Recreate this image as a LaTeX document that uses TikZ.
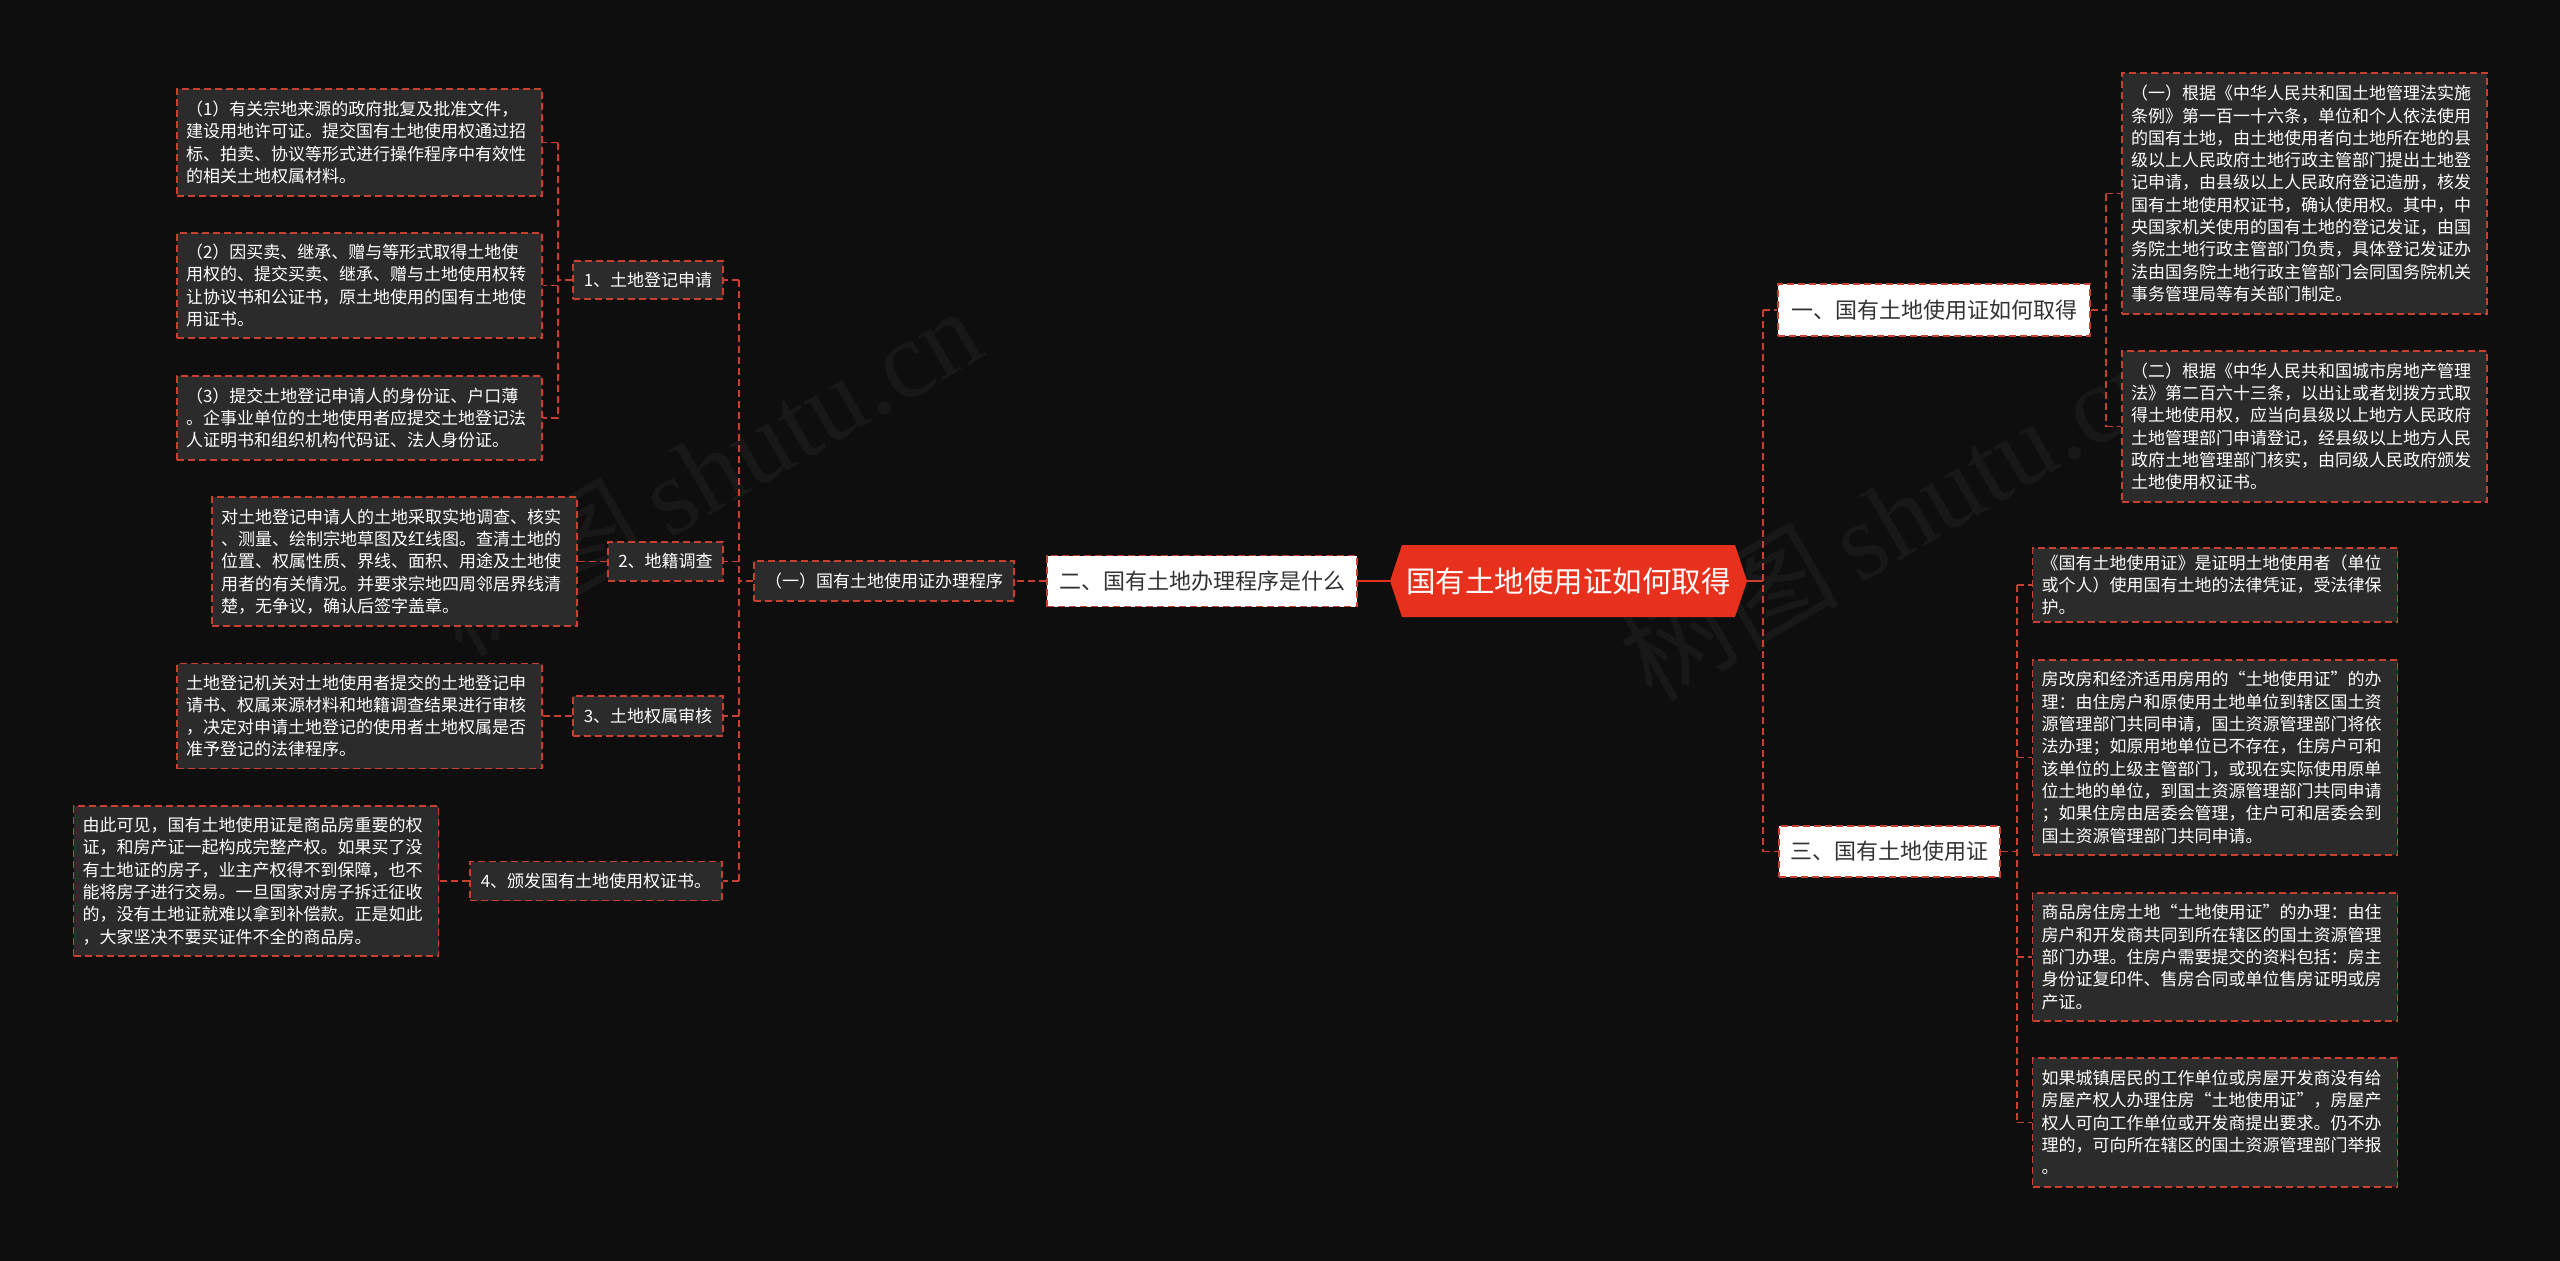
\documentclass[tikz,border=0pt]{standalone}
\usepackage{fontspec}
\setmainfont{Noto Sans CJK SC}
\newfontfamily\wmserif{Liberation Serif}
\definecolor{bg}{HTML}{0E0E0E}
\definecolor{boxfill}{HTML}{2B2B2B}
\definecolor{bord}{HTML}{C9402F}
\definecolor{rootred}{HTML}{E8311C}
\definecolor{darktext}{HTML}{333333}
\tikzset{
 dashln/.style={draw=bord, line width=1.8pt, dash pattern=on 7pt off 4pt},
 conn/.style={dashln},
 solidln/.style={draw=rootred, line width=2.5pt},
 stubln/.style={draw=bord, line width=1.8pt},
 tbox/.style={dashln, fill=boxfill, text=white, font=\fontsize{17}{22.3}\selectfont, align=left, text width=347pt, inner xsep=9pt, inner ysep=0pt},
 lbox/.style={dashln, fill=boxfill, text=white, font=\fontsize{17}{20}\selectfont, inner sep=0pt},
 wbox/.style={dashln, fill=white, text=darktext, font=\fontsize{22}{26}\selectfont, inner sep=0pt},
 wmark/.style={rotate=30, text=white, text opacity=0.045, font=\fontsize{110}{110}\selectfont},
}
\begin{document}
\begin{tikzpicture}[x=1pt,y=-1pt]
\fill[bg] (0,0) rectangle (2560,1261);
\useasboundingbox (0,0) rectangle (2560,1261);

% watermarks
\node[wmark] (wm1) at (705,470) {树图\,{\wmserif shutu.cn}};
\node[wmark] (wm2) at (1895,515) {树图\,{\wmserif shutu.cn}};

% root
\fill[rootred] (1390,581) -- (1402,545) -- (1735,545) -- (1747,581) -- (1735,617) -- (1402,617) -- cycle;
\node[font=\fontsize{29.5}{34}\selectfont, text=white, minimum width=357pt, minimum height=72pt, inner sep=0pt] (root) at (1568.5,581) {国有土地使用证如何取得};

% left branch
\node[wbox, minimum width=310pt, minimum height=51pt] (l1) at (1202,581) {二、国有土地办理程序是什么};
\node[lbox, minimum width=260pt, minimum height=40pt] (sub) at (884,581) {（一）国有土地使用证办理程序};
\node[lbox, minimum width=150pt, minimum height=38pt] (n1) at (648,280) {1、土地登记申请};
\node[lbox, minimum width=115pt, minimum height=39pt] (n2) at (665.5,561.5) {2、地籍调查};
\node[lbox, minimum width=150pt, minimum height=40pt] (n3) at (648,716) {3、土地权属审核};
\node[lbox, minimum width=252pt, minimum height=39pt] (n4) at (596,881) {4、颁发国有土地使用权证书。};

\node[tbox, minimum height=107pt] (t1) at (359.5,142.5) {（1）有关宗地来源的政府批复及批准文件，\\建设用地许可证。提交国有土地使用权通过招\\标、拍卖、协议等形式进行操作程序中有效性\\的相关土地权属材料。};
\node[tbox, minimum height=105pt] (t2) at (359.5,285.5) {（2）因买卖、继承、赠与等形式取得土地使\\用权的、提交买卖、继承、赠与土地使用权转\\让协议书和公证书，原土地使用的国有土地使\\用证书。};
\node[tbox, minimum height=84pt] (t3) at (359.5,418) {（3）提交土地登记申请人的身份证、户口薄\\。企事业单位的土地使用者应提交土地登记法\\人证明书和组织机构代码证、法人身份证。};
\node[tbox, minimum height=129pt] (t4) at (394.5,561.5) {对土地登记申请人的土地采取实地调查、核实\\、测量、绘制宗地草图及红线图。查清土地的\\位置、权属性质、界线、面积、用途及土地使\\用者的有关情况。并要求宗地四周邻居界线清\\楚，无争议，确认后签字盖章。};
\node[tbox, minimum height=105pt] (t5) at (359.5,716) {土地登记机关对土地使用者提交的土地登记申\\请书、权属来源材料和地籍调查结果进行审核\\，决定对申请土地登记的使用者土地权属是否\\准予登记的法律程序。};
\node[tbox, minimum height=150pt] (t6) at (256,881) {由此可见，国有土地使用证是商品房重要的权\\证，和房产证一起构成完整产权。如果买了没\\有土地证的房子，业主产权得不到保障，也不\\能将房子进行交易。一旦国家对房子拆迁征收\\的，没有土地证就难以拿到补偿款。正是如此\\，大家坚决不要买证件不全的商品房。};

% right branch
\node[wbox, minimum width=312pt, minimum height=52pt] (r1) at (1934,310) {一、国有土地使用证如何取得};
\node[wbox, minimum width=221pt, minimum height=51pt] (r3) at (1889.5,851.5) {三、国有土地使用证};

\node[tbox, minimum height=241pt] (ra) at (2304.5,193.5) {（一）根据《中华人民共和国土地管理法实施\\条例》第一百一十六条，单位和个人依法使用\\的国有土地，由土地使用者向土地所在地的县\\级以上人民政府土地行政主管部门提出土地登\\记申请，由县级以上人民政府登记造册，核发\\国有土地使用权证书，确认使用权。其中，中\\央国家机关使用的国有土地的登记发证，由国\\务院土地行政主管部门负责，具体登记发证办\\法由国务院土地行政主管部门会同国务院机关\\事务管理局等有关部门制定。};
\node[tbox, minimum height=151pt] (rb) at (2304.5,426.5) {（二）根据《中华人民共和国城市房地产管理\\法》第二百六十三条，以出让或者划拨方式取\\得土地使用权，应当向县级以上地方人民政府\\土地管理部门申请登记，经县级以上地方人民\\政府土地管理部门核实，由同级人民政府颁发\\土地使用权证书。};

\node[tbox, minimum height=74pt] (ca) at (2215,585) {《国有土地使用证》是证明土地使用者（单位\\或个人）使用国有土地的法律凭证，受法律保\\护。};
\node[tbox, minimum height=195pt] (cb) at (2215,757.5) {房改房和经济适用房用的“土地使用证”的办\\理：由住房户和原使用土地单位到辖区国土资\\源管理部门共同申请，国土资源管理部门将依\\法办理；如原用地单位已不存在，住房户可和\\该单位的上级主管部门，或现在实际使用原单\\位土地的单位，到国土资源管理部门共同申请\\；如果住房由居委会管理，住户可和居委会到\\国土资源管理部门共同申请。};
\node[tbox, minimum height=128pt] (cc) at (2215,957) {商品房住房土地“土地使用证”的办理：由住\\房户和开发商共同到所在辖区的国土资源管理\\部门办理。住房户需要提交的资料包括：房主\\身份证复印件、售房合同或单位售房证明或房\\产证。};
\node[tbox, minimum height=129pt] (cd) at (2215,1122.5) {如果城镇居民的工作单位或房屋开发商没有给\\房屋产权人办理住房“土地使用证”，房屋产\\权人可向工作单位或开发商提出要求。仍不办\\理的，可向所在辖区的国土资源管理部门举报\\。};

% junction coordinates
\coordinate (j1) at (739,581);
\coordinate (j2) at (558,280);
\coordinate (j3) at (1763,581);
\coordinate (j4) at (2106,310);
\coordinate (j5) at (2017,851.5);

% connectors left
\draw[solidln] (root.west) -- (l1.east);
\draw[conn] (l1.west) -- (sub.east);
\draw[conn] (sub.west) -- (j1);
\draw[conn] (j1 |- n1.east) -- (j1 |- n4.east);
\draw[conn] (j1 |- n1.east) -- (n1.east);
\draw[conn] (j1 |- n2.east) -- (n2.east);
\draw[conn] (j1 |- n3.east) -- (n3.east);
\draw[conn] (j1 |- n4.east) -- (n4.east);
\draw[conn] (n1.west) -- (j2);
\draw[conn] (j2 |- t1.east) -- (j2 |- t3.east);
\draw[conn] (j2 |- t1.east) -- (t1.east);
\draw[conn] (j2 |- t2.east) -- (t2.east);
\draw[conn] (j2 |- t3.east) -- (t3.east);
\draw[conn] (n2.west) -- (t4.east);
\draw[conn] (n3.west) -- (t5.east);
\draw[conn] (n4.west) -- (t6.east);

% connectors right
\draw[stubln] (root.east) -- (j3);
\draw[conn] (j3 |- r1.west) -- (j3 |- r3.west);
\draw[conn] (j3 |- r1.west) -- (r1.west);
\draw[conn] (j3 |- r3.west) -- (r3.west);
\draw[conn] (r1.east) -- (j4);
\draw[conn] (j4 |- ra.west) -- (j4 |- rb.west);
\draw[conn] (j4 |- ra.west) -- (ra.west);
\draw[conn] (j4 |- rb.west) -- (rb.west);
\draw[conn] (r3.east) -- (j5);
\draw[conn] (j5 |- ca.west) -- (j5 |- cd.west);
\draw[conn] (j5 |- ca.west) -- (ca.west);
\draw[conn] (j5 |- cb.west) -- (cb.west);
\draw[conn] (j5 |- cc.west) -- (cc.west);
\draw[conn] (j5 |- cd.west) -- (cd.west);
\end{tikzpicture}
\end{document}
